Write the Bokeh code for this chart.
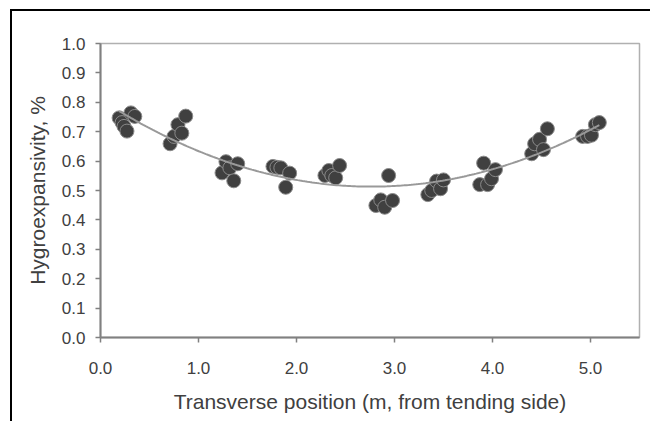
import numpy as np
from bokeh.plotting import figure
from bokeh.models import FixedTicker, NumeralTickFormatter, Range1d
from bokeh.embed import file_html
from bokeh.resources import INLINE

# --- data ---
pos = [0.19, 0.22, 0.24, 0.27, 0.31, 0.35,
       0.71, 0.75, 0.79, 0.83, 0.87,
       1.24, 1.28, 1.32, 1.36, 1.40,
       1.76, 1.80, 1.84, 1.89, 1.93,
       2.29, 2.33, 2.36, 2.40, 2.44,
       2.81, 2.86, 2.90, 2.94, 2.98,
       3.34, 3.38, 3.43, 3.47, 3.50,
       3.87, 3.91, 3.95, 3.99, 4.03,
       4.40, 4.43, 4.48, 4.52, 4.56,
       4.92, 4.97, 5.01, 5.05, 5.09]
hygro = [0.747, 0.731, 0.718, 0.702, 0.764, 0.752,
         0.659, 0.684, 0.724, 0.695, 0.753,
         0.560, 0.598, 0.577, 0.533, 0.591,
         0.582, 0.579, 0.577, 0.511, 0.559,
         0.551, 0.568, 0.551, 0.543, 0.585,
         0.449, 0.468, 0.443, 0.551, 0.466,
         0.486, 0.500, 0.532, 0.506, 0.536,
         0.520, 0.593, 0.520, 0.540, 0.571,
         0.625, 0.659, 0.674, 0.639, 0.710,
         0.684, 0.684, 0.688, 0.724, 0.731]
x_ticks = [0, 1, 2, 3, 4, 5]
y_ticks = [0.0, 0.1, 0.2, 0.3, 0.4, 0.5, 0.6, 0.7, 0.8, 0.9, 1.0]

# quadratic trend line fitted to the points
coef = np.polyfit(pos, hygro, 2)
fx = np.linspace(min(pos), max(pos), 200)
fy = np.polyval(coef, fx)

W, H = 640, 412
p = figure(width=W, height=H, output_backend="svg", toolbar_location=None,
           x_range=Range1d(0, 5.5), y_range=Range1d(0, 1.0),
           min_border_left=88, min_border_right=13, min_border_top=32, min_border_bottom=86)
p.margin = (9, 0, 0, 10)
p.styles = {"border-left": "2px solid black", "border-top": "2px solid black"}

p.scatter(pos, hygro, size=14, fill_color="#404040", line_color="#8a8a8a", line_width=1)
p.line(fx, fy, line_color="#999999", line_width=2)

p.xgrid.visible = False
p.ygrid.visible = False
p.outline_line_color = "#b0b0b0"
p.outline_line_width = 1.5

for ax in (p.xaxis[0], p.yaxis[0]):
    ax.axis_line_color = "#808080"
    ax.axis_line_width = 2
    ax.major_tick_line_color = "#808080"
    ax.major_tick_line_width = 1.5
    ax.major_tick_out = 5
    ax.major_tick_in = 0
    ax.minor_tick_line_color = None
    ax.major_label_text_font = "Liberation Sans"
    ax.major_label_text_font_size = "17px"
    ax.major_label_text_color = "#404040"
    ax.axis_label_text_font = "Liberation Sans"
    ax.axis_label_text_font_size = "21px"
    ax.axis_label_text_font_style = "normal"
    ax.axis_label_text_color = "#404040"
    ax.formatter = NumeralTickFormatter(format="0.0")

p.xaxis.ticker = FixedTicker(ticks=x_ticks)
p.yaxis.ticker = FixedTicker(ticks=y_ticks)
p.xaxis.axis_label = "Transverse position (m, from tending side)"
p.yaxis.axis_label = "Hygroexpansivity, %"
p.xaxis.major_label_standoff = 19
p.yaxis.major_label_standoff = 10
p.xaxis.axis_label_standoff = 13
p.yaxis.axis_label_standoff = 10

open("out.html", "w").write(file_html(p, INLINE))
